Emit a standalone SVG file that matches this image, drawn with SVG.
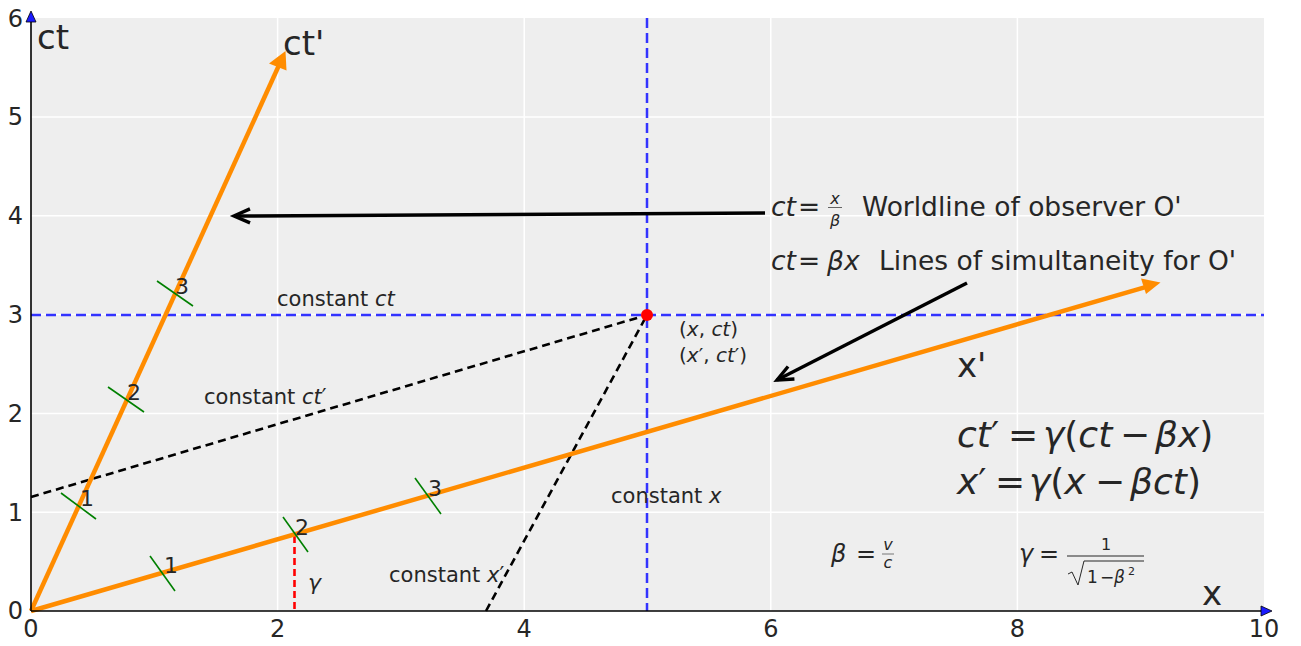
<svg xmlns="http://www.w3.org/2000/svg" width="1301" height="646" viewBox="0 0 1301 646">
<style>
text{font-family:"DejaVu Sans","Liberation Sans",sans-serif;fill:#262626}
.it{font-style:italic}
.up{font-style:normal}
.grid{stroke:#fff;stroke-width:1.5}
.tick{font-size:24px}
.tl{font-size:22px}
.gt{stroke:#008000;stroke-width:1.6}
.blue{stroke:#3333ff;stroke-width:2.5;stroke-dasharray:10 5;fill:none}
.bd{stroke:#000;stroke-width:2.6;stroke-dasharray:8 5;fill:none}
.orange{stroke:#ff8c00;stroke-width:4.5;fill:none}
.lab{font-size:21px}
.big{font-size:34px}
.eq{font-size:26.5px}
.eqb{font-size:36px}
</style>
<defs>
<marker id="ah" markerUnits="userSpaceOnUse" markerWidth="24" markerHeight="20" refX="18" refY="10" orient="auto">
<path d="M2,3 L18,10 L2,17" fill="none" stroke="#000" stroke-width="3.4"/>
</marker>
</defs>
<rect x="0" y="0" width="1301" height="646" fill="#fff"/>
<rect id="panel" x="31" y="18" width="1233" height="593" fill="#eeeeee"/>
<g id="grid">
<line class="grid" x1="277.6" y1="18" x2="277.6" y2="611"/>
<line class="grid" x1="524.2" y1="18" x2="524.2" y2="611"/>
<line class="grid" x1="770.8" y1="18" x2="770.8" y2="611"/>
<line class="grid" x1="1017.4" y1="18" x2="1017.4" y2="611"/>
<line class="grid" x1="31" y1="512.2" x2="1264" y2="512.2"/>
<line class="grid" x1="31" y1="413.4" x2="1264" y2="413.4"/>
<line class="grid" x1="31" y1="314.6" x2="1264" y2="314.6"/>
<line class="grid" x1="31" y1="215.8" x2="1264" y2="215.8"/>
<line class="grid" x1="31" y1="117" x2="1264" y2="117"/>
</g>
<g id="ticklabels" class="tick">
<text x="31" y="637" text-anchor="middle">0</text>
<text x="277.6" y="637" text-anchor="middle">2</text>
<text x="524.2" y="637" text-anchor="middle">4</text>
<text x="770.8" y="637" text-anchor="middle">6</text>
<text x="1017.4" y="637" text-anchor="middle">8</text>
<text x="1264" y="637" text-anchor="middle">10</text>
<text x="23" y="619" text-anchor="end">0</text>
<text x="23" y="520.5" text-anchor="end">1</text>
<text x="23" y="421.5" text-anchor="end">2</text>
<text x="23" y="322.5" text-anchor="end">3</text>
<text x="23" y="224" text-anchor="end">4</text>
<text x="23" y="125" text-anchor="end">5</text>
<text x="23" y="26.5" text-anchor="end">6</text>
</g>
<g id="connectors">
<line class="blue" x1="647" y1="18" x2="647" y2="611"/>
<line class="blue" x1="31" y1="315" x2="1264" y2="315"/>
<line class="bd" x1="31" y1="497" x2="647" y2="315"/>
<line class="bd" x1="486" y1="611" x2="647" y2="315"/>
<line x1="294.5" y1="536" x2="294.5" y2="611" stroke="#ff0000" stroke-width="2.6" stroke-dasharray="7 4"/>
<line class="orange" x1="31" y1="611" x2="280" y2="63"/>
<polygon points="285.5,51 286.5,70.5 269,63.5" fill="#ff8c00"/>
<line class="orange" x1="31" y1="611" x2="1148" y2="286.3"/>
<polygon points="1160.5,282.5 1146,294 1141,278.5" fill="#ff8c00"/>
<line x1="765" y1="213" x2="234" y2="216" stroke="#000" stroke-width="3.5" marker-end="url(#ah)"/>
<line x1="967" y1="283" x2="777" y2="380" stroke="#000" stroke-width="3.5" marker-end="url(#ah)"/>
<line class="gt" x1="61" y1="493" x2="96" y2="519"/>
<line class="gt" x1="108" y1="387" x2="144" y2="412"/>
<line class="gt" x1="157" y1="281" x2="193" y2="306"/>
<line class="gt" x1="150" y1="556" x2="175" y2="591"/>
<line class="gt" x1="283" y1="517" x2="308" y2="552"/>
<line class="gt" x1="415" y1="478" x2="441" y2="514"/>
</g>
<g id="axes">
<line x1="31" y1="611" x2="31" y2="20" stroke="#000" stroke-width="1.6"/>
<line x1="31" y1="611" x2="1262" y2="611" stroke="#000" stroke-width="1.6"/>
<polygon points="31,11 36,22 26,22" fill="#1a1aff" stroke="#000" stroke-width="0.8"/>
<polygon points="1272,611 1261,606 1261,616" fill="#1a1aff" stroke="#000" stroke-width="0.8"/>
</g>
<g id="event">
<circle cx="647" cy="315" r="6" fill="#ff0000"/>
</g>
<g id="ticknumbers" class="tl">
<text x="80" y="506">1</text>
<text x="127" y="400">2</text>
<text x="175" y="294">3</text>
<text x="164" y="573">1</text>
<text x="295" y="535">2</text>
<text x="428" y="496">3</text>
</g>
<g id="axis-labels" class="big">
<text x="37" y="49">ct</text>
<text x="283" y="55">ct'</text>
<text x="957" y="377">x'</text>
<text x="1202" y="605">x</text>
</g>
<g id="labels" class="lab">
<text x="277" y="306">constant <tspan class="it">ct</tspan></text>
<text x="204" y="404">constant <tspan class="it">ct</tspan><tspan class="up">′</tspan></text>
<text x="611" y="503">constant <tspan class="it">x</tspan></text>
<text x="389" y="582">constant <tspan class="it">x</tspan><tspan class="up">′</tspan></text>
<text x="679" y="336" font-size="20">(<tspan class="it">x</tspan>, <tspan class="it">ct</tspan>)</text>
<text x="679" y="362" font-size="20">(<tspan class="it">x</tspan><tspan class="up">′</tspan>, <tspan class="it">ct</tspan><tspan class="up">′</tspan>)</text>
<text x="308" y="590" class="it" font-size="22">γ</text>
</g>
<g id="legend-eqs" class="eq">
<text x="771" y="216" class="it">ct</text>
<text x="798" y="216">=</text>
<text x="835" y="204" class="it" font-size="16" text-anchor="middle">x</text>
<line x1="828" y1="207.5" x2="842" y2="207.5" stroke="#262626" stroke-width="0.7"/>
<text x="835" y="226" class="it" font-size="16" text-anchor="middle">β</text>
<text x="862" y="216">Worldline of observer O'</text>
<text x="771" y="270" class="it">ct</text>
<text x="798" y="270">=</text>
<text x="827" y="270" class="it">βx</text>
<text x="879" y="270">Lines of simultaneity for O'</text>
</g>
<g id="lorentz" class="eqb">
<text x="957" y="447"><tspan class="it">ct</tspan>′</text>
<text x="1008" y="447">=</text>
<text x="1043" y="447"><tspan class="it">γ</tspan>(<tspan class="it">ct</tspan></text>
<text x="1120" y="447">−</text>
<text x="1155" y="447"><tspan class="it">βx</tspan>)</text>
<text x="957" y="494"><tspan class="it">x</tspan>′</text>
<text x="995" y="494">=</text>
<text x="1029" y="494"><tspan class="it">γ</tspan>(<tspan class="it">x</tspan></text>
<text x="1095" y="494">−</text>
<text x="1130" y="494"><tspan class="it">βct</tspan>)</text>
</g>
<g id="defs-eqs">
<text x="831" y="562" class="it" font-size="24">β</text>
<text x="856" y="562" font-size="24">=</text>
<text x="888" y="550" class="it" font-size="16" text-anchor="middle">v</text>
<line x1="882" y1="554" x2="894" y2="554" stroke="#262626" stroke-width="0.6"/>
<text x="888" y="568" class="it" font-size="16" text-anchor="middle">c</text>
<text x="1019" y="562" class="it" font-size="24">γ</text>
<text x="1039" y="562" font-size="24">=</text>
<text x="1106" y="550" font-size="16" text-anchor="middle">1</text>
<line x1="1067" y1="556" x2="1144" y2="556" stroke="#262626" stroke-width="1"/>
<path d="M1068,574 L1072,572 L1078,585 L1084,561 L1144,561" fill="none" stroke="#262626" stroke-width="1"/>
<text x="1087" y="583" font-size="17">1</text>
<text x="1100" y="583" font-size="17">−</text>
<text x="1114" y="583" class="it" font-size="17">β</text>
<text x="1128" y="575" font-size="11">2</text>
</g>
</svg>
